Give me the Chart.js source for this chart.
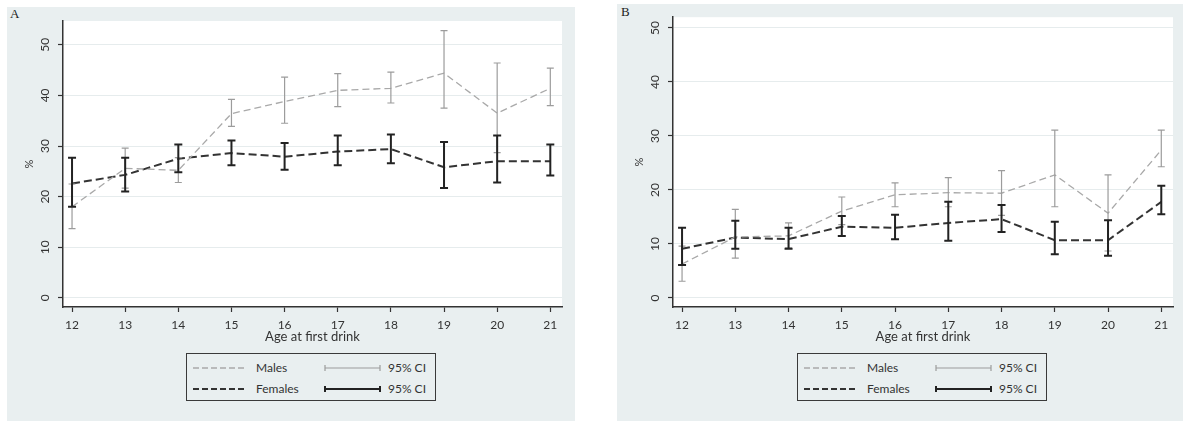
<!DOCTYPE html>
<html>
<head>
<meta charset="utf-8">
<script src="https://cdn.jsdelivr.net/npm/chart.js@4.4.1/dist/chart.umd.min.js"></script>
<style>
  body { margin: 0; background: #fff; width: 1185px; height: 443px; overflow: hidden; position: relative; font-family: Lato, "Open Sans", sans-serif; }
  .panel { position: absolute; background: #e9eff0; }
  .tag { position: absolute; font-family: "Liberation Serif", serif; font-size: 13px; color: #222; }
  .cv { position: absolute; }
  .legend { position: absolute; width: 250px; height: 48px; border: 1.5px solid #3a3a3a; box-sizing: border-box; font-size: 12px; color: #333; }
  .legend svg { position: absolute; left: 0; top: 0; }
  .legend span { position: absolute; line-height: 14px; }
</style>
</head>
<body>
<div class="panel" style="left:7px;top:7px;width:568px;height:414px"></div>
<div class="panel" style="left:617px;top:4px;width:566px;height:417px"></div>
<div class="tag" style="left:10px;top:6px">A</div>
<div class="tag" style="left:621px;top:4px">B</div>
<canvas id="chartA" class="cv" style="left:7px;top:7px" width="568" height="340"></canvas>
<canvas id="chartB" class="cv" style="left:617px;top:4px" width="566" height="343"></canvas>
<div id="legendA" class="legend" style="left:186px;top:353px"></div>
<div id="legendB" class="legend" style="left:797px;top:353px"></div>

<script>
const ages = [12, 13, 14, 15, 16, 17, 18, 19, 20, 21];
const xTicks = [12, 13, 14, 15, 16, 17, 18, 19, 20, 21];
const yTicks = [0, 10, 20, 30, 40, 50];

// Panel A
const malesA     = [18.0, 25.6, 25.2, 36.4, 38.8, 41.0, 41.4, 44.4, 36.5, 41.4];
const malesALow  = [13.7, 21.7, 22.8, 33.9, 34.5, 37.8, 38.5, 37.5, 28.7, 38.0];
const malesAHigh = [22.5, 29.6, 27.7, 39.2, 43.6, 44.3, 44.6, 52.8, 46.4, 45.4];
const femalesA     = [22.6, 24.3, 27.5, 28.6, 27.9, 28.9, 29.4, 25.8, 27.0, 27.0];
const femalesALow  = [18.0, 21.0, 24.8, 26.2, 25.3, 26.2, 26.6, 21.7, 22.8, 24.2];
const femalesAHigh = [27.7, 27.7, 30.3, 31.1, 30.6, 32.1, 32.3, 30.8, 32.1, 30.3];

// Panel B
const malesB     = [6.3, 11.3, 11.5, 16.1, 19.1, 19.5, 19.4, 22.8, 15.7, 27.4];
const malesBLow  = [3.1, 7.4, 9.3, 13.6, 16.9, 16.9, 15.3, 16.9, 8.7, 24.3];
const malesBHigh = [9.6, 16.4, 13.9, 18.7, 21.3, 22.3, 23.6, 31.1, 22.8, 31.1];
const femalesB     = [9.1, 11.2, 10.9, 13.2, 13.0, 13.9, 14.6, 10.7, 10.7, 17.8];
const femalesBLow  = [6.1, 9.1, 9.1, 11.5, 10.9, 10.6, 12.2, 8.1, 7.8, 15.5];
const femalesBHigh = [13.0, 14.3, 13.0, 15.2, 15.4, 17.8, 17.2, 14.1, 14.4, 20.8];

const maleColor = '#a9a9a9';
const femaleColor = '#333333';
const axisColor = '#333333';

// white plot region, like the Stata plotregion
const plotBg = {
  id: 'plotBg',
  beforeDraw(chart) {
    const { ctx, chartArea: a } = chart;
    ctx.save();
    ctx.fillStyle = '#ffffff';
    ctx.fillRect(a.left, a.top, a.right - a.left, a.bottom - a.top);
    ctx.restore();
  }
};

// draws the 95% CI whiskers through the chart's own scales
const ciBars = {
  id: 'ciBars',
  afterDatasetsDraw(chart) {
    const { ctx, scales: { x, y } } = chart;
    chart.data.datasets.forEach(ds => {
      if (!ds.ciLow) return;
      ctx.save();
      ctx.strokeStyle = ds.ciColor;
      ctx.lineWidth = ds.ciWidth;
      ds.data.forEach((p, i) => {
        const px = x.getPixelForValue(p.x);
        const lo = y.getPixelForValue(ds.ciLow[i]);
        const hi = y.getPixelForValue(ds.ciHigh[i]);
        const c = ds.capHalf;
        ctx.beginPath();
        ctx.moveTo(px, lo); ctx.lineTo(px, hi);
        ctx.moveTo(px - c, lo); ctx.lineTo(px + c, lo);
        ctx.moveTo(px - c, hi); ctx.lineTo(px + c, hi);
        ctx.stroke();
      });
      ctx.restore();
    });
  }
};

function pts(vals) {
  return ages.map((a, i) => ({ x: a, y: vals[i] }));
}

function makeChart(id, yMin, yMax, pad, m, mLo, mHi, f, fLo, fHi) {
  return new Chart(document.getElementById(id), {
    type: 'line',
    data: {
      datasets: [
        { label: 'Males', data: pts(m), borderColor: maleColor, borderWidth: 1.3, borderDash: [7, 4], pointRadius: 0, tension: 0,
          ciLow: mLo, ciHigh: mHi, ciColor: '#9c9c9c', ciWidth: 1.2, capHalf: 3.5 },
        { label: 'Females', data: pts(f), borderColor: femaleColor, borderWidth: 2, borderDash: [8, 4], pointRadius: 0, tension: 0,
          ciLow: fLo, ciHigh: fHi, ciColor: '#222222', ciWidth: 2, capHalf: 4 }
      ]
    },
    options: {
      responsive: false,
      animation: false,
      layout: { padding: pad },
      plugins: { legend: { display: false }, tooltip: { enabled: false } },
      scales: {
        x: {
          type: 'linear', min: 11.83, max: 21.22,
          afterBuildTicks: s => { s.ticks = xTicks.map(v => ({ value: v })); },
          afterFit: s => { s.height = 40; },
          grid: { drawOnChartArea: false, tickLength: 5, tickColor: axisColor, tickWidth: 1.2 },
          border: { color: axisColor, width: 1.5 },
          ticks: { font: { family: 'Lato', size: 12 }, color: '#333', padding: 6 },
          title: { display: true, text: 'Age at first drink', font: { family: 'Lato', size: 13 }, color: '#333', padding: { top: 0, bottom: 2 } }
        },
        y: {
          min: yMin, max: yMax,
          afterBuildTicks: s => { s.ticks = yTicks.map(v => ({ value: v })); },
          afterFit: s => { s.width = 56; },
          grid: { color: '#e6eced', tickColor: axisColor, tickLength: 5, tickWidth: 1.2 },
          border: { color: axisColor, width: 1.5 },
          ticks: { font: { family: 'Lato', size: 12 }, color: '#333', minRotation: 90, maxRotation: 90, crossAlign: 'center', padding: 6 },
          title: { display: true, text: '%', font: { family: 'Lato', size: 11 }, color: '#333', padding: { top: 16, bottom: 0 } }
        }
      }
    },
    plugins: [plotBg, ciBars]
  });
}

makeChart('chartA', -1.8, 54.7, { left: 0, top: 14, right: 13, bottom: 0 },
  malesA, malesALow, malesAHigh, femalesA, femalesALow, femalesAHigh);
makeChart('chartB', -1.67, 52.0, { left: 0, top: 13, right: 10, bottom: 0 },
  malesB, malesBLow, malesBHigh, femalesB, femalesBLow, femalesBHigh);

function buildLegend(id) {
  const el = document.getElementById(id);
  el.innerHTML =
    '<svg width="248" height="46">' +
      '<line x1="6" y1="14" x2="60" y2="14" stroke="' + maleColor + '" stroke-width="1.3" stroke-dasharray="6 3"/>' +
      '<line x1="6" y1="35" x2="60" y2="35" stroke="' + femaleColor + '" stroke-width="2" stroke-dasharray="6 3"/>' +
      '<path d="M138 14H193M138 11V17M193 11V17" stroke="#9c9c9c" stroke-width="1.2" fill="none"/>' +
      '<path d="M138 35H193M138 32V38M193 32V38" stroke="#222" stroke-width="2" fill="none"/>' +
    '</svg>' +
    '<span style="left:69px;top:7px">Males</span>' +
    '<span style="left:69px;top:28px">Females</span>' +
    '<span style="left:201px;top:7px">95% CI</span>' +
    '<span style="left:201px;top:28px">95% CI</span>';
}
buildLegend('legendA');
buildLegend('legendB');
</script>
</body>
</html>
